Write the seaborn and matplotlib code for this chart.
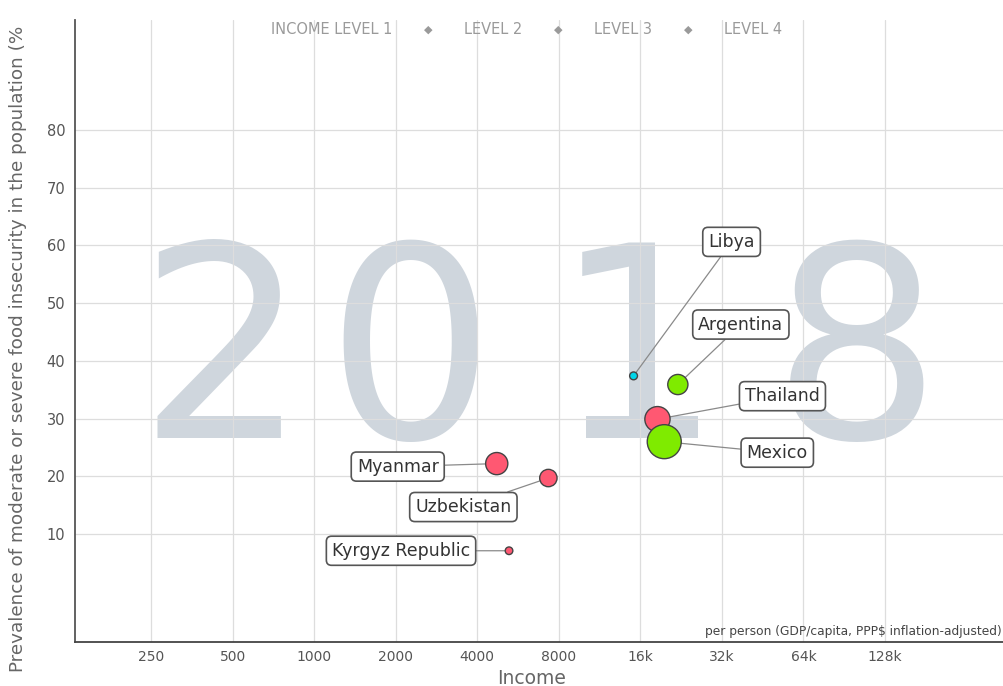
import matplotlib
matplotlib.use("Agg")
import matplotlib.pyplot as plt
import seaborn as sns
import pandas as pd

# ---- data ----
countries = ["Libya", "Argentina", "Thailand", "Mexico", "Myanmar", "Uzbekistan", "Kyrgyz Republic"]
income = [15100, 22000, 18500, 19600, 4720, 7320, 5240]
food_insecurity = [37.4, 35.9, 29.9, 26.0, 22.2, 19.7, 7.1]
population_m = [6.7, 44.4, 69.4, 126.2, 53.7, 32.9, 6.3]
region = ["Africa", "Americas", "Asia", "Americas", "Asia", "Asia", "Asia"]
region_colors = {"Africa": "#00d5e9", "Americas": "#7feb00", "Asia": "#ff5872"}
x_ticks = [250, 500, 1000, 2000, 4000, 8000, 16000, 32000, 64000, 128000]
x_tick_labels = ["250", "500", "1000", "2000", "4000", "8000", "16k", "32k", "64k", "128k"]
y_ticks = [10, 20, 30, 40, 50, 60, 70, 80]
year = "2018"
legend_items = ["INCOME LEVEL 1", "LEVEL 2", "LEVEL 3", "LEVEL 4"]

df = pd.DataFrame({"country": countries, "income": income, "value": food_insecurity,
                   "pop": population_m, "region": region})

sns.set_theme(style="white")
plt.rcParams["font.family"] = ["DejaVu Sans"]

W, H = 1004, 686
fig = plt.figure(figsize=(W / 100, H / 100), dpi=100)
ax = fig.add_axes([75 / W, 44 / H, 929 / W, 622 / H])
ax.set_xscale("log", base=2)
ax.set_xlim(131, 351800)
ax.set_ylim(-8.71, 99.06)

# grid
ax.set_xticks(x_ticks)
ax.set_xticklabels(x_tick_labels)
ax.set_yticks(y_ticks)
ax.set_yticklabels([str(v) for v in y_ticks])
ax.minorticks_off()
ax.grid(True, color="#dddddd", lw=0.9)
ax.set_axisbelow(True)

# watermark year
digit_x = [222, 410, 638, 857]
for d, px in zip(year, digit_x):
    ax.text(px / W, 1 - 438 / H, d, transform=fig.transFigure, ha="center", va="baseline",
            fontsize=192, color="#cfd6dd", family="DejaVu Sans", zorder=0.3)

sns.scatterplot(data=df, x="income", y="value", size="pop", hue="region",
                palette=region_colors, sizes=(0, 600), size_norm=(0, 126.2),
                edgecolor="#444444", linewidth=1.0, alpha=1, legend=False, ax=ax, zorder=2)

# labels
offsets = {"Libya": (98, 134), "Argentina": (63, 60), "Thailand": (125, 23), "Mexico": (113, -11),
           "Myanmar": (-99, -3), "Uzbekistan": (-85, -29), "Kyrgyz Republic": (-108, 0)}
for c, xv, yv in zip(countries, income, food_insecurity):
    ax.annotate(c, xy=(xv, yv), xytext=offsets[c], textcoords="offset pixels",
                ha="center", va="center", fontsize=12.5, color="#333333",
                bbox=dict(boxstyle="round,pad=0.32,rounding_size=0.3", fc="white", ec="#555555", lw=1.2),
                arrowprops=dict(arrowstyle="-", color="#8a8a8a", lw=0.9, shrinkA=0, shrinkB=0),
                zorder=1.5)

# spines
for s in ["top", "right"]:
    ax.spines[s].set_visible(False)
ax.spines["left"].set_color("#555555")
ax.spines["left"].set_linewidth(1.3)
ax.spines["bottom"].set_color("#444444")
ax.spines["bottom"].set_linewidth(1.3)
ax.tick_params(axis="y", length=4, color="#cccccc", labelsize=10.5, labelcolor="#555555", pad=3)
ax.tick_params(axis="x", length=0, labelsize=10, labelcolor="#555555", pad=6)
ax.set_xlabel("")
ax.set_ylabel("")

# axis titles
fig.text(532 / W, 1 - 678 / H, "Income", ha="center", va="center", fontsize=13.5, color="#666666")
fig.text(18 / W, 1 - 672 / H, "Prevalence of moderate or severe food insecurity in the population (%",
         rotation=90, ha="center", va="bottom", fontsize=13.2, color="#666666")
fig.text(1002 / W, 1 - 632 / H, "per person (GDP/capita, PPP$ inflation-adjusted)", ha="right",
         va="center", fontsize=8.8, color="#444444")

# top income-level legend
leg_x = [332, 493, 623, 753]
for t, px in zip(legend_items, leg_x):
    fig.text(px / W, 1 - 30 / H, t, ha="center", va="center", fontsize=10.5, color="#9a9a9a")
for px in [428, 558, 688]:
    fig.text(px / W, 1 - 30 / H, "◆", ha="center", va="center", fontsize=8, color="#9a9a9a")

fig.savefig("out.png", dpi=100, facecolor="white")
